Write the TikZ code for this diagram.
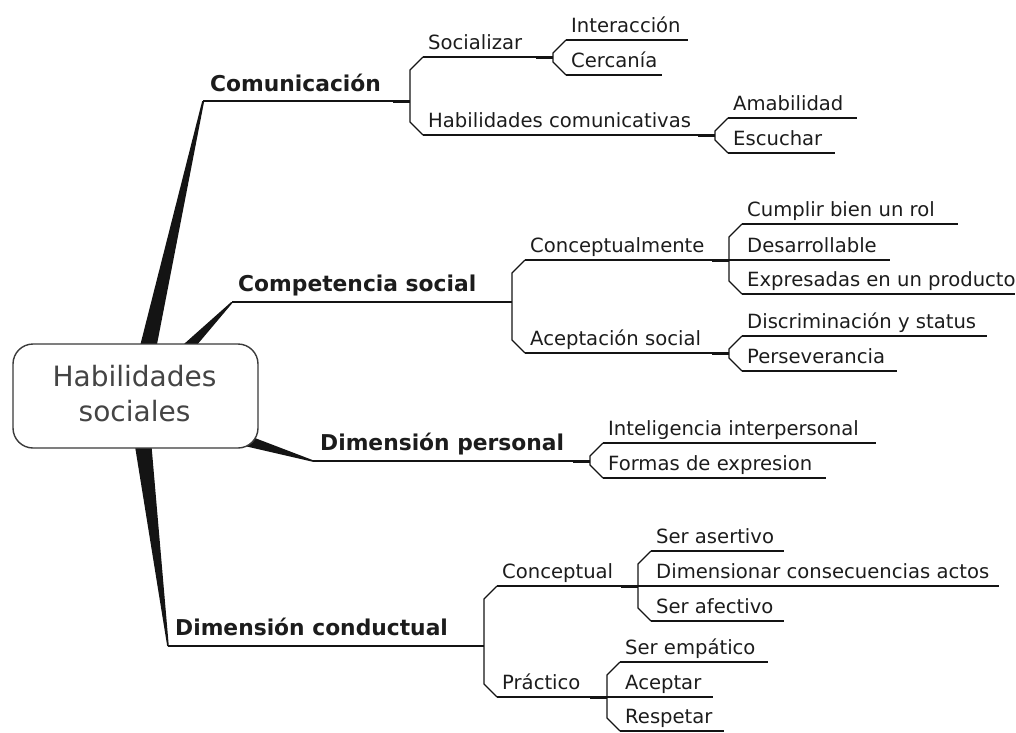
\documentclass[tikz,border=0pt]{standalone}
\usepackage{fontspec}
\setmainfont{DejaVu Sans}

\definecolor{ink}{HTML}{141414}
\definecolor{txt}{HTML}{1C1C1C}
\definecolor{hubline}{HTML}{3A3A3A}
\definecolor{hubtxt}{HTML}{444444}

\newcommand\leaffont{\fontsize{19.6pt}{24pt}\selectfont}
\newcommand\topicfont{\fontsize{21.8pt}{26pt}\selectfont\bfseries}
\newcommand\hubfont{\fontsize{28pt}{35pt}\selectfont}

\tikzset{
  branch/.style={draw=ink, line width=1.5pt},
  fork/.style={draw=ink, line width=1.3pt, line join=round},
  stub/.style={draw=ink, line width=0.9pt},
  wedge/.style={fill=ink},
  leaf/.style={anchor=base west, inner sep=0pt, text=txt, font=\leaffont},
  topic/.style={anchor=base west, inner sep=0pt, text=txt, font=\topicfont},
  hubbox/.style={draw=hubline, line width=1.4pt, fill=white, rounded corners=20pt,
    minimum width=245pt, minimum height=104pt, inner sep=0pt},
  hubtext/.style={align=center, text=hubtxt, font=\hubfont, inner sep=0pt},
}

% #1 name, #2 x0, #3 x1, #4 y, #5 label x, #6 label baseline, #7 style, #8 text
\newcommand\arm[8]{%
  \coordinate (#1-s) at (#2,#4);
  \coordinate (#1-e) at (#3,#4);
  \draw[branch] (#1-s) -- (#1-e);
  \node[#7] (#1) at (#5,#6) {#8};
}
% bracket joining the first and last child of a group
\newcommand\fork[2]{%
  \draw[fork] (#1-s) -- ++(-13,13) -- ([shift={(-13,-13)}]#2-s) -- (#2-s);
}
% short doubled segment where a parent meets its bracket
\newcommand\joint[1]{%
  \draw[stub] ([shift={(-17,1.8)}]#1-e) -- ([shift={(0,1.8)}]#1-e);
}

\begin{document}
\begin{tikzpicture}[x=1pt, y=-1pt]
\useasboundingbox (0,0) rectangle (1016,732);

% ---- first-level branches
\arm{com}{203}{410}{101}{210}{91}{topic}{Comunicación}
\arm{cso}{232}{512}{302}{238}{291}{topic}{Competencia social}
\arm{dpe}{313}{590}{461}{320}{450}{topic}{Dimensión personal}
\arm{dco}{168}{484}{646}{175}{635}{topic}{Dimensión conductual}

% ---- tapered trunks from the hub
\coordinate (t1a) at (138.5,352);
\coordinate (t1b) at (155.5,352);
\coordinate (t2a) at (175,352);
\coordinate (t2b) at (191,352);
\coordinate (t3a) at (242.3,445.5);
\coordinate (t3b) at (245.7,434.5);
\coordinate (t4a) at (134,440);
\coordinate (t4b) at (151,440);
\fill[wedge] (t1a) -- (t1b) -- ([xshift=1.2pt]com-s) -- ([xshift=-0.8pt]com-s) -- cycle;
\fill[wedge] (t2a) -- (t2b) -- ([xshift=1.2pt]cso-s) -- ([xshift=-0.8pt]cso-s) -- cycle;
\fill[wedge] (t3a) -- (t3b) -- ([yshift=0.8pt]dpe-s) -- ([yshift=-0.8pt]dpe-s) -- cycle;
\fill[wedge] (t4a) -- (t4b) -- ([xshift=0.8pt]dco-s) -- ([xshift=-0.8pt]dco-s) -- cycle;

% ---- central topic
\node[hubbox] (hub) at (135.5,396) {};
\node[hubtext] (hublabel) at (134.5,393.9) {Habilidades\\sociales};

% ---- Comunicación
\arm{soc}{423}{553}{57}{428}{49}{leaf}{Socializar}
\arm{hco}{423}{715}{135}{428}{127}{leaf}{Habilidades comunicativas}
\arm{int}{566}{688}{40}{571}{32}{leaf}{Interacción}
\arm{cer}{566}{662}{75}{571}{67}{leaf}{Cercanía}
\arm{ama}{728}{857}{118}{733}{110}{leaf}{Amabilidad}
\arm{esc}{728}{835}{153}{733}{145}{leaf}{Escuchar}
\fork{soc}{hco}
\fork{int}{cer}
\fork{ama}{esc}
\joint{com}\joint{soc}\joint{hco}

% ---- Competencia social
\arm{cpt}{525}{729}{260}{530}{252}{leaf}{Conceptualmente}
\arm{ace}{525}{729}{353}{530}{345}{leaf}{Aceptación social}
\arm{cum}{742}{958}{224}{747}{216}{leaf}{Cumplir bien un rol}
\arm{des}{729}{890}{260}{747}{252}{leaf}{Desarrollable}
\arm{exp}{742}{1015}{294}{747}{286}{leaf}{Expresadas en un producto}
\arm{dis}{742}{987}{336}{747}{328}{leaf}{Discriminación y status}
\arm{per}{742}{897}{371}{747}{363}{leaf}{Perseverancia}
\fork{cpt}{ace}
\fork{cum}{exp}
\fork{dis}{per}
\joint{cpt}\joint{ace}

% ---- Dimensión personal
\arm{ipe}{603}{876}{443}{608}{435}{leaf}{Inteligencia interpersonal}
\arm{fex}{603}{826}{478}{608}{470}{leaf}{Formas de expresion}
\fork{ipe}{fex}
\joint{dpe}

% ---- Dimensión conductual
\arm{cpl}{497}{638}{586}{502}{578}{leaf}{Conceptual}
\arm{pra}{497}{607}{697}{502}{689}{leaf}{Práctico}
\arm{ase}{651}{784}{551}{656}{543}{leaf}{Ser asertivo}
\arm{dim}{638}{999}{586}{656}{578}{leaf}{Dimensionar consecuencias actos}
\arm{afe}{651}{784}{621}{656}{613}{leaf}{Ser afectivo}
\arm{emp}{620}{768}{662}{625}{654}{leaf}{Ser empático}
\arm{acp}{607}{713}{697}{625}{689}{leaf}{Aceptar}
\arm{res}{620}{724}{731}{625}{723}{leaf}{Respetar}
\fork{cpl}{pra}
\fork{ase}{afe}
\fork{emp}{res}
\joint{cpl}\joint{pra}
\end{tikzpicture}
\end{document}
